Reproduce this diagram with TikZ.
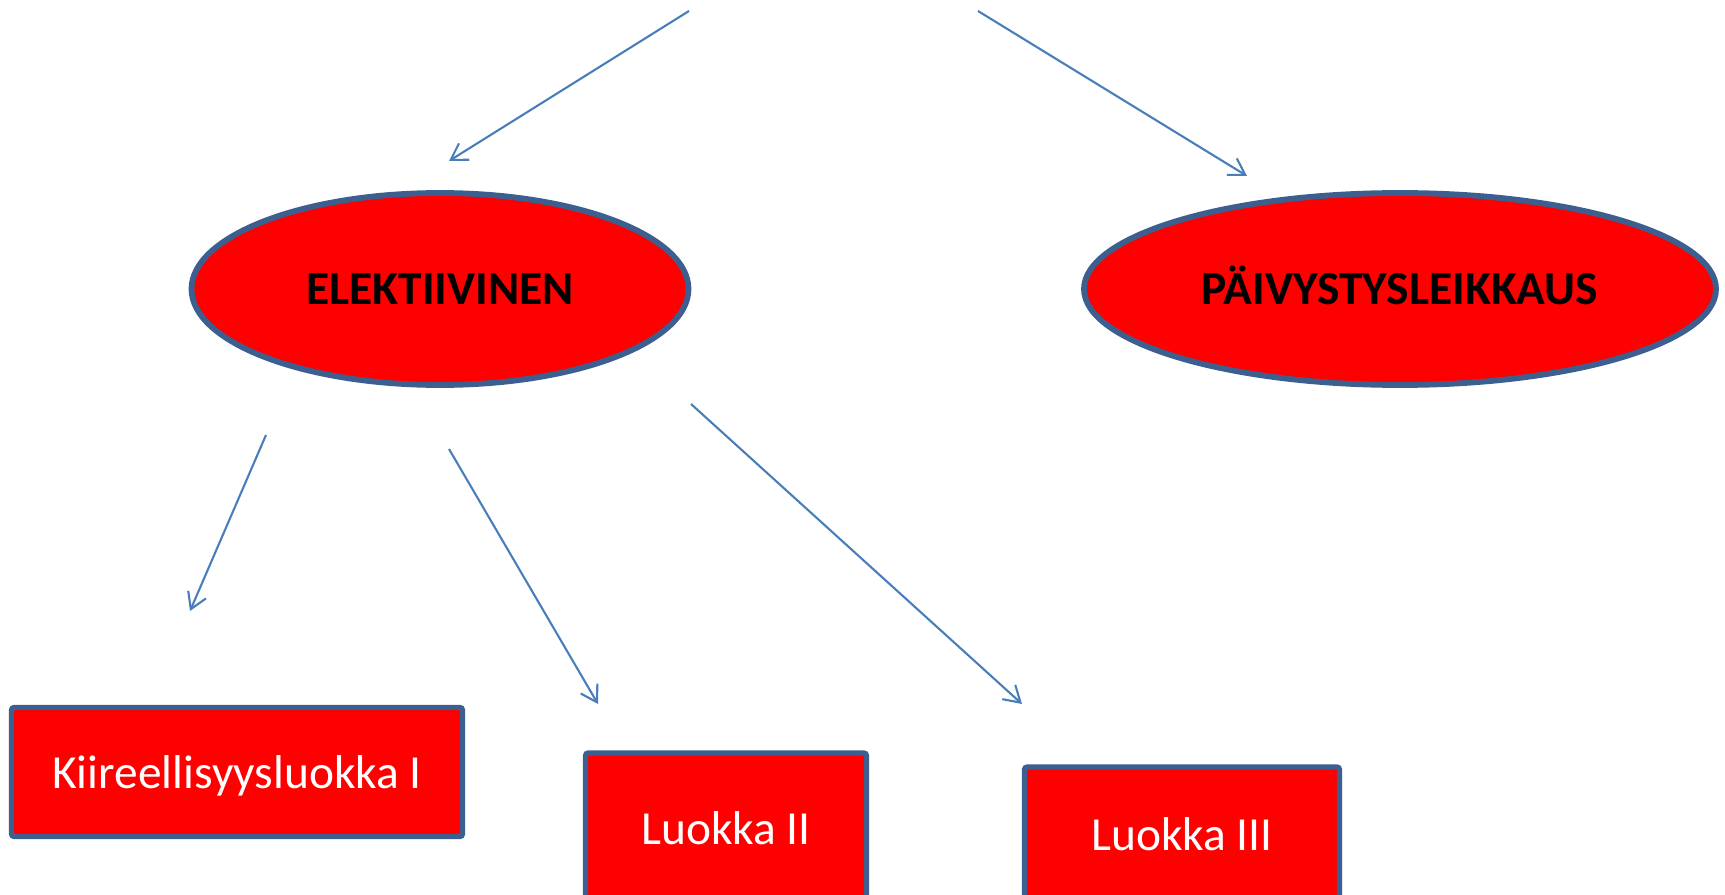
\documentclass[tikz,border=0pt]{standalone}
\usepackage{fontspec}
\setmainfont{Carlito}
\usetikzlibrary{shapes.geometric,arrows.meta}
\definecolor{reuna}{HTML}{3D5F8F}
\definecolor{nuoli}{HTML}{4A7EBB}
\tikzset{
oval/.style  = {draw=reuna, fill=red, ellipse, line width=3.3pt, inner sep=0pt, text height=17.3pt, text depth=0pt, font=\fontsize{27}{32}\selectfont\bfseries},
luokka/.style = {draw=reuna, fill=red, rectangle, rounded corners=1.5pt, line width=3pt, inner sep=0pt, text depth=0pt, text=white, font=\fontsize{27}{32}\selectfont},
tmp/.style   = {coordinate},
nuolet/.style = {draw=nuoli, line width=1.2pt, -{Straight Barb[length=9pt,width=11pt]}}
}
\begin{document}
\begin{tikzpicture}[x=0.02cm, y=-0.02cm]
  \useasboundingbox (0,0) rectangle (1725,895);

  \node [oval, minimum width=497*0.02cm, minimum height=192*0.02cm]   (elektiivinen) at (440,289)  {ELEKTIIVINEN};
  \node [oval, minimum width=632*0.02cm, minimum height=192*0.02cm]   (paivystys)    at (1400,289) {PÄIVYSTYSLEIKKAUS};
  \node [luokka, minimum width=451*0.02cm, minimum height=129*0.02cm] (luokka1)      at (237,772)  {Kiireellisyysluokka I};
  \node [luokka, minimum width=281*0.02cm, minimum height=150*0.02cm] (luokka2)      at (726,828)  {Luokka II};
  \node [luokka, minimum width=315*0.02cm, minimum height=134*0.02cm] (luokka3)      at (1182,834) {Luokka III};

  \node [tmp] (alku1)  at (689,11)  {};
  \node [tmp] (loppu1) at (449,161) {};
  \node [tmp] (alku2)  at (978,11)  {};
  \node [tmp] (loppu2) at (1247,176) {};
  \node [tmp] (alku3)  at (266,435) {};
  \node [tmp] (loppu3) at (190,611) {};
  \node [tmp] (alku4)  at (449,449) {};
  \node [tmp] (loppu4) at (598,704) {};
  \node [tmp] (alku5)  at (691,404) {};
  \node [tmp] (loppu5) at (1022,704) {};

  \draw [nuolet] (alku1) -- (loppu1);
  \draw [nuolet] (alku2) -- (loppu2);
  \draw [nuolet] (alku3) -- (loppu3);
  \draw [nuolet] (alku4) -- (loppu4);
  \draw [nuolet] (alku5) -- (loppu5);
\end{tikzpicture}
\end{document}
